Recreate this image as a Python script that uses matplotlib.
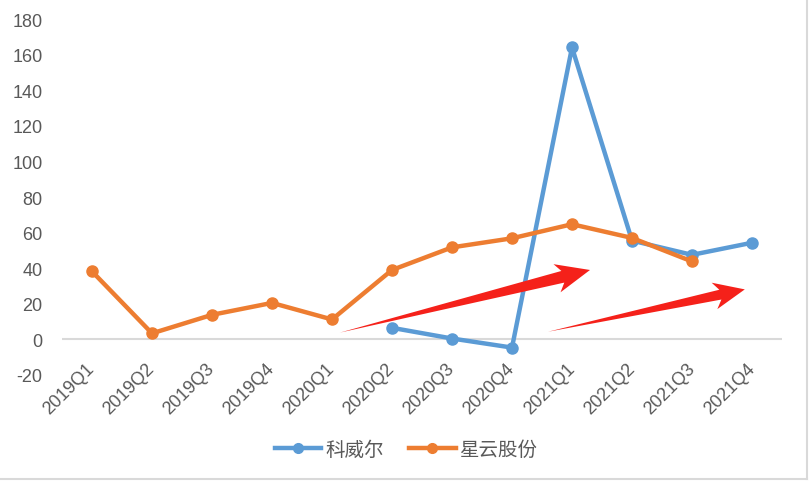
import matplotlib
matplotlib.use("Agg")
import matplotlib.pyplot as plt
import numpy as np
from matplotlib.patches import Polygon
from matplotlib.lines import Line2D
from matplotlib.transforms import IdentityTransform

plt.rcParams['font.family'] = ['Liberation Sans', 'Noto Sans CJK SC', 'DejaVu Sans']

categories = ['2019Q1', '2019Q2', '2019Q3', '2019Q4', '2020Q1', '2020Q2',
              '2020Q3', '2020Q4', '2021Q1', '2021Q2', '2021Q3', '2021Q4']
kewei = [np.nan, np.nan, np.nan, np.nan, np.nan, 6.5, 0.5, -4.6, 164, 55.5, 47.5, 54.3]
xingyun = [38.2, 3.4, 13.8, 20.5, 11.2, 39, 51.7, 56.8, 64.7, 57, 43.8, np.nan]
series_names = ['科威尔', '星云股份']
yticks = [-20, 0, 20, 40, 60, 80, 100, 120, 140, 160, 180]
# annotation arrows: (tail x, tail y) -> (tip x, tip y) in data units
arrows = [((4.13, 3.8), (8.3, 39.0)), ((7.6, 4.3), (10.88, 28.1))]

W, H = 810, 485
fig = plt.figure(figsize=(W / 100, H / 100), dpi=100)
ax = fig.add_axes([62 / W, 1 - 376 / H, 720 / W, 356 / H])

x = np.arange(len(categories))
blue = '#5B9BD5'
orange = '#ED7D31'
grey_text = '#595959'

ax.axhline(0, color='#d9d9d9', lw=1.5, zorder=1)
ax.plot(x, kewei, color=blue, lw=3.2, marker='o', ms=8, zorder=3)
ax.plot(x, xingyun, color=orange, lw=3.2, marker='o', ms=8, zorder=3)

ax.set_xlim(-0.5, len(categories) - 0.5)
ax.set_ylim(-20, 180)
ax.set_yticks(yticks)
ax.set_yticklabels([str(v) for v in yticks], fontsize=13, color=grey_text)
ax.set_xticks(x)
ax.set_xticklabels(categories, rotation=45, ha='right', va='center',
                   rotation_mode='anchor', fontsize=13, color=grey_text)
ax.tick_params(axis='both', length=0)
ax.tick_params(axis='x', pad=-7)
ax.tick_params(axis='y', pad=14)
for s in ax.spines.values():
    s.set_visible(False)

# red arrows, built in display pixels from data coords
def draw_arrow(p0, p1, shaft_w=10, head_w=26, head_len=30):
    a = ax.transData.transform(p0)
    b = ax.transData.transform(p1)
    d = b - a
    L = np.hypot(*d)
    u = d / L
    n = np.array([-u[1], u[0]])
    base = b - u * head_len
    pts = [a,
           base + n * shaft_w / 2,
           base + n * head_w / 2 - u * 6,
           b,
           base - n * head_w / 2 - u * 6,
           base - n * shaft_w / 2]
    poly = Polygon(pts, closed=True, facecolor='#f5211a', edgecolor='none',
                   transform=IdentityTransform(), zorder=4)
    fig.patches.append(poly)

draw_arrow(*arrows[0], shaft_w=12, head_w=29, head_len=28)
draw_arrow(*arrows[1], shaft_w=10, head_w=27, head_len=25)

handles = [Line2D([], [], color=blue, lw=3.2, marker='o', ms=7),
           Line2D([], [], color=orange, lw=3.2, marker='o', ms=7)]
leg = fig.legend(handles, series_names, loc='center', bbox_to_anchor=(406 / W, 1 - 450 / H),
                 ncol=2, frameon=False, handlelength=2.4,
                 handletextpad=0.2, columnspacing=1.3,
                 prop={'family': ['Noto Sans CJK SC', 'DejaVu Sans'], 'size': 14})
for t in leg.get_texts():
    t.set_color(grey_text)

# light grey frame edges (right and bottom)
fig.add_artist(Line2D([807 / W, 807 / W], [1 - 480 / H, 1.0], color='#d9d9d9', lw=1.5,
                      transform=fig.transFigure))
fig.add_artist(Line2D([0, 807 / W], [1 - 480 / H, 1 - 480 / H], color='#d9d9d9', lw=1.5,
                      transform=fig.transFigure))

fig.savefig('out.png', dpi=100)
